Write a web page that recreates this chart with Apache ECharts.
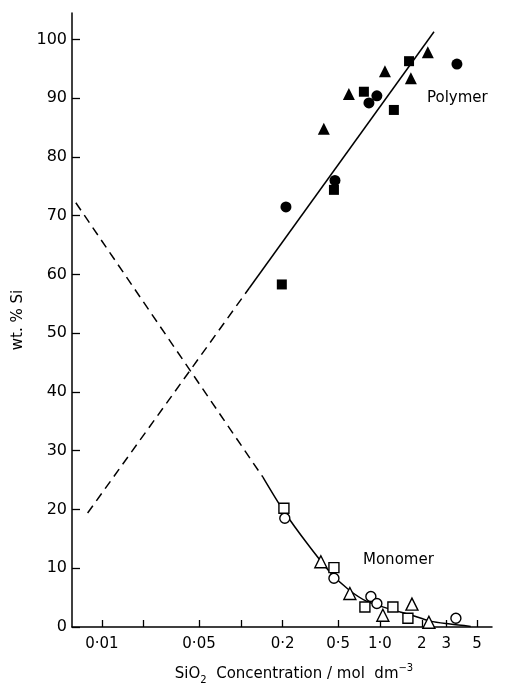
<!DOCTYPE html>
<html>
<head>
<meta charset="utf-8">
<script src="https://cdn.jsdelivr.net/npm/echarts@6/dist/echarts.min.js"></script>
<style>html,body{margin:0;padding:0;background:#fff}#c{width:510px;height:690px}</style>
</head>
<body>
<div id="c"></div>
<script>
// ---- data ----
var xTickValues = [0.01, 0.05, 0.2, 0.5, 1, 2, 3, 5];
var xTickLabels = ['0·01', '0·05', '0·2', '0·5', '1·0', '2', '3', '5'];
var xMinorTicks = [0.01, 0.02, 0.05, 0.1, 0.2, 0.5, 1, 2, 3, 5];
var yTickValues = [0, 10, 20, 30, 40, 50, 60, 70, 80, 90, 100];

var polymerCircleX = [0.211, 0.475, 0.834, 0.951, 3.58];
var polymerCircleY = [71.5, 76.0, 89.2, 90.4, 95.8];
var polymerSquareX = [0.197, 0.467, 0.767, 1.26, 1.62];
var polymerSquareY = [58.3, 74.4, 91.1, 88.0, 96.3];
var polymerTriangleX = [0.395, 0.598, 1.087, 1.67, 2.21];
var polymerTriangleY = [84.8, 90.7, 94.6, 93.4, 97.8];

var monomerCircleX = [0.207, 0.467, 0.861, 0.951, 3.52];
var monomerCircleY = [18.5, 8.3, 5.2, 4.0, 1.5];
var monomerSquareX = [0.204, 0.467, 0.78, 1.24, 1.59];
var monomerSquareY = [20.2, 10.1, 3.4, 3.4, 1.5];
var monomerTriangleX = [0.376, 0.608, 1.05, 1.70, 2.25];
var monomerTriangleY = [11.1, 5.7, 2.0, 3.9, 0.8];

var polymerFitX = [0.115, 2.45];
var polymerFitY = [57.7, 101.3];
var polymerDashX = [0.0079, 0.115];
var polymerDashY = [19.4, 57.7];

var monomerFitX = [0.144, 0.2, 0.3, 0.45, 0.6, 0.8, 1.2, 1.65, 2.3, 3.2, 4.5];
var monomerFitY = [25.5, 20.0, 14.2, 9.0, 6.3, 4.4, 3.0, 2.1, 1.0, 0.5, 0.1];
var monomerDashX = [0.0065, 0.144];
var monomerDashY = [72.2, 25.5];

function zip(xs, ys) { return xs.map(function (x, i) { return [x, ys[i]]; }); }

var FONT = 'DejaVu Sans';
var chart = echarts.init(document.getElementById('c'), null, { renderer: 'canvas' });

function scatter(name, xs, ys, symbol, filled, size) {
  return {
    name: name, type: 'scatter', data: zip(xs, ys), symbol: symbol, symbolSize: size,
    itemStyle: filled ? { color: '#000', opacity: 1 } : { color: '#fff', borderColor: '#000', borderWidth: 1.4, opacity: 1 },
    z: 5
  };
}
function line(name, xs, ys, dashed, smooth) {
  return {
    name: name, type: 'line', data: zip(xs, ys), symbol: 'none', smooth: smooth || false,
    lineStyle: { color: '#000', width: 1.5, type: dashed ? [9, 6] : 'solid' }, z: 3
  };
}

chart.setOption({
  animation: false,
  backgroundColor: '#fff',
  grid: { left: 72, right: 18, top: 13, bottom: 57 },
  xAxis: {
    type: 'log', logBase: 10, min: 0.0061, max: 6.4,
    name: 'SiO{sub|2}  Concentration / mol  dm{sup|−3}',
    nameLocation: 'middle', nameGap: 36,
    nameTextStyle: {
      fontFamily: FONT, fontSize: 15, color: '#000', padding: [0, 0, 0, 24], lineHeight: 22,
      rich: {
        sub: { fontFamily: FONT, fontSize: 10, color: '#000', verticalAlign: 'bottom', lineHeight: 22, padding: [8, 0, 0, 0] },
        sup: { fontFamily: FONT, fontSize: 10, color: '#000', verticalAlign: 'top', lineHeight: 22, padding: [0, 0, 10, 0] }
      }
    },
    axisLine: { show: true, onZero: false, lineStyle: { color: '#000', width: 1.5 } },
    axisTick: { show: true, inside: true, length: 7, lineStyle: { color: '#000', width: 1.3 }, customValues: xMinorTicks },
    minorTick: { show: false },
    splitLine: { show: false },
    axisLabel: {
      fontFamily: FONT, fontSize: 15, color: '#000', margin: 10,
      customValues: xTickValues,
      formatter: function (v) {
        var best = 0, bd = Infinity;
        for (var i = 0; i < xTickValues.length; i++) {
          var d = Math.abs(Math.log(v) - Math.log(xTickValues[i]));
          if (d < bd) { bd = d; best = i; }
        }
        return xTickLabels[best];
      }
    }
  },
  yAxis: {
    type: 'value', min: 0, max: 104.5,
    name: 'wt. % Si', nameLocation: 'middle', nameGap: 39, nameRotate: 90,
    nameTextStyle: { fontFamily: FONT, fontSize: 15, color: '#000' },
    axisLine: { show: true, lineStyle: { color: '#000', width: 1.5 } },
    axisTick: { show: true, inside: true, length: 8, lineStyle: { color: '#000', width: 1.3 }, customValues: yTickValues },
    splitLine: { show: false },
    axisLabel: { fontFamily: FONT, fontSize: 16, color: '#000', margin: 5, customValues: yTickValues }
  },
  graphic: [
    { type: 'text', left: 427, top: 91, style: { text: 'Polymer', fontFamily: FONT, fontSize: 15, fill: '#000' } },
    { type: 'text', left: 363, top: 553, style: { text: 'Monomer', fontFamily: FONT, fontSize: 15, fill: '#000' } }
  ],
  series: [
    line('polymerDash', polymerDashX, polymerDashY, true),
    line('polymerFit', polymerFitX, polymerFitY, false),
    line('monomerDash', monomerDashX, monomerDashY, true),
    line('monomerFit', monomerFitX, monomerFitY, false, 0.3),
    scatter('pc', polymerCircleX, polymerCircleY, 'circle', true, 11),
    scatter('ps', polymerSquareX, polymerSquareY, 'rect', true, 10),
    scatter('pt', polymerTriangleX, polymerTriangleY, 'triangle', true, 12),
    scatter('mc', monomerCircleX, monomerCircleY, 'circle', false, 10),
    scatter('ms', monomerSquareX, monomerSquareY, 'rect', false, 10),
    scatter('mt', monomerTriangleX, monomerTriangleY, 'triangle', false, 12)
  ]
});
</script>
</body>
</html>
